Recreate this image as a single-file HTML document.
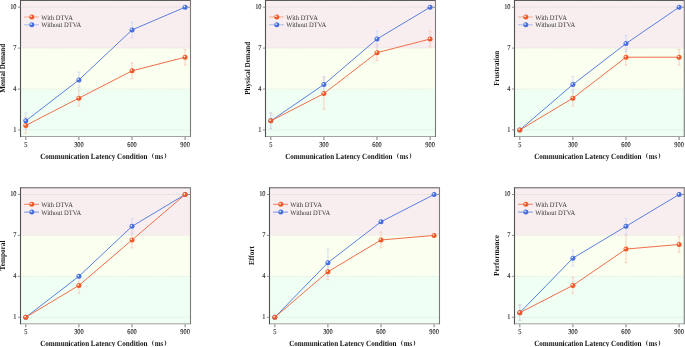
<!DOCTYPE html><html><head><meta charset="utf-8"><style>html,body{margin:0;padding:0;background:#fff;width:685px;height:347px;overflow:hidden}svg{display:block;filter:blur(0.3px)}text{font-family:'Liberation Serif', serif;text-rendering:geometricPrecision}</style></head><body><svg width="685" height="347" viewBox="0 0 685 347"><defs><radialGradient id="go" cx="0.36" cy="0.36" r="0.6" fx="0.36" fy="0.36"><stop offset="0" stop-color="#fff"/><stop offset="0.18" stop-color="#fbd0bf"/><stop offset="0.42" stop-color="#ef5a2a"/><stop offset="1" stop-color="#ef5a2a"/></radialGradient><radialGradient id="gb" cx="0.36" cy="0.36" r="0.6" fx="0.36" fy="0.36"><stop offset="0" stop-color="#fff"/><stop offset="0.18" stop-color="#c5d1f5"/><stop offset="0.42" stop-color="#476fdd"/><stop offset="1" stop-color="#476fdd"/></radialGradient></defs><rect x="20.50" y="0.00" width="170.00" height="48.12" fill="#f8eef0"/><rect x="20.50" y="48.12" width="170.00" height="40.92" fill="#fbfff0"/><rect x="20.50" y="89.04" width="170.00" height="47.46" fill="#f0fff4"/><line x1="20.50" y1="7.20" x2="190.50" y2="7.20" stroke="#000" stroke-opacity="0.1" stroke-width="0.9" stroke-dasharray="1.3 1.2"/><line x1="20.50" y1="48.12" x2="190.50" y2="48.12" stroke="#000" stroke-opacity="0.1" stroke-width="0.9" stroke-dasharray="1.3 1.2"/><line x1="20.50" y1="89.04" x2="190.50" y2="89.04" stroke="#000" stroke-opacity="0.1" stroke-width="0.9" stroke-dasharray="1.3 1.2"/><line x1="20.50" y1="129.96" x2="190.50" y2="129.96" stroke="#000" stroke-opacity="0.1" stroke-width="0.9" stroke-dasharray="1.3 1.2"/><line x1="20.50" y1="136.50" x2="190.50" y2="136.50" stroke="#a2a2a2" stroke-width="1"/><line x1="20.50" y1="0.50" x2="190.50" y2="0.50" stroke="#5c5c5c" stroke-width="1"/><line x1="190.50" y1="0.00" x2="190.50" y2="137.00" stroke="#7a7a7a" stroke-width="1.1"/><line x1="20.50" y1="0.00" x2="20.50" y2="137.00" stroke="#505050" stroke-width="1.1"/><line x1="17.90" y1="7.20" x2="20.50" y2="7.20" stroke="#777" stroke-width="0.8"/><text transform="translate(16.50 9.00) scale(0.860 1)" font-size="7.40" text-anchor="end" fill="#111" stroke="#222" stroke-width="0.1">10</text><line x1="17.90" y1="48.12" x2="20.50" y2="48.12" stroke="#777" stroke-width="0.8"/><text transform="translate(16.50 49.92) scale(0.860 1)" font-size="7.40" text-anchor="end" fill="#111" stroke="#222" stroke-width="0.1">7</text><line x1="17.90" y1="89.04" x2="20.50" y2="89.04" stroke="#777" stroke-width="0.8"/><text transform="translate(16.50 90.84) scale(0.860 1)" font-size="7.40" text-anchor="end" fill="#111" stroke="#222" stroke-width="0.1">4</text><line x1="17.90" y1="129.96" x2="20.50" y2="129.96" stroke="#777" stroke-width="0.8"/><text transform="translate(16.50 131.76) scale(0.860 1)" font-size="7.40" text-anchor="end" fill="#111" stroke="#222" stroke-width="0.1">1</text><line x1="187.50" y1="7.20" x2="190.50" y2="7.20" stroke="#888" stroke-width="0.9"/><line x1="25.80" y1="137.00" x2="25.80" y2="139.90" stroke="#888" stroke-width="1.1"/><text transform="translate(25.80 146.80) scale(0.860 1)" font-size="7.40" text-anchor="middle" fill="#111" stroke="#222" stroke-width="0.1">5</text><line x1="78.90" y1="137.00" x2="78.90" y2="139.90" stroke="#888" stroke-width="1.1"/><text transform="translate(78.90 146.80) scale(0.860 1)" font-size="7.40" text-anchor="middle" fill="#111" stroke="#222" stroke-width="0.1">300</text><line x1="132.00" y1="137.00" x2="132.00" y2="139.90" stroke="#888" stroke-width="1.1"/><text transform="translate(132.00 146.80) scale(0.860 1)" font-size="7.40" text-anchor="middle" fill="#111" stroke="#222" stroke-width="0.1">600</text><line x1="185.10" y1="137.00" x2="185.10" y2="139.90" stroke="#888" stroke-width="1.1"/><text transform="translate(185.10 146.80) scale(0.860 1)" font-size="7.40" text-anchor="middle" fill="#111" stroke="#222" stroke-width="0.1">900</text><text x="40.20" y="159.00" font-size="8.00" font-weight="bold" fill="#111" textLength="107.30" lengthAdjust="spacingAndGlyphs">Communication Latency Condition</text><path d="M153.60,152.70 Q150.40,155.80 153.60,158.90 Q152.40,155.80 153.60,152.70 Z" fill="#3a3a3a"/><text x="154.70" y="159.00" font-size="8.00" font-weight="bold" fill="#111" textLength="8.6" lengthAdjust="spacingAndGlyphs">ms</text><path d="M164.70,152.70 Q167.90,155.80 164.70,158.90 Q165.90,155.80 164.70,152.70 Z" fill="#3a3a3a"/><text transform="translate(5.10 68.25) rotate(-90)" font-size="7.70" font-weight="bold" text-anchor="middle" textLength="48.90" lengthAdjust="spacingAndGlyphs" fill="#111">Mental Demand</text><line x1="25.80" y1="117.54" x2="25.80" y2="133.28" stroke="#f7cbbb" stroke-width="0.9"/><line x1="24.30" y1="117.54" x2="27.30" y2="117.54" stroke="#f7cbbb" stroke-width="0.9"/><line x1="24.30" y1="133.28" x2="27.30" y2="133.28" stroke="#f7cbbb" stroke-width="0.9"/><line x1="78.90" y1="90.26" x2="78.90" y2="106.00" stroke="#f7cbbb" stroke-width="0.9"/><line x1="77.40" y1="90.26" x2="80.40" y2="90.26" stroke="#f7cbbb" stroke-width="0.9"/><line x1="77.40" y1="106.00" x2="80.40" y2="106.00" stroke="#f7cbbb" stroke-width="0.9"/><line x1="132.00" y1="62.98" x2="132.00" y2="78.72" stroke="#f7cbbb" stroke-width="0.9"/><line x1="130.50" y1="62.98" x2="133.50" y2="62.98" stroke="#f7cbbb" stroke-width="0.9"/><line x1="130.50" y1="78.72" x2="133.50" y2="78.72" stroke="#f7cbbb" stroke-width="0.9"/><line x1="185.10" y1="49.34" x2="185.10" y2="65.08" stroke="#f7cbbb" stroke-width="0.9"/><line x1="183.60" y1="49.34" x2="186.60" y2="49.34" stroke="#f7cbbb" stroke-width="0.9"/><line x1="183.60" y1="65.08" x2="186.60" y2="65.08" stroke="#f7cbbb" stroke-width="0.9"/><line x1="25.80" y1="113.00" x2="25.80" y2="128.74" stroke="#cfd9f4" stroke-width="0.9"/><line x1="24.30" y1="113.00" x2="27.30" y2="113.00" stroke="#cfd9f4" stroke-width="0.9"/><line x1="24.30" y1="128.74" x2="27.30" y2="128.74" stroke="#cfd9f4" stroke-width="0.9"/><line x1="78.90" y1="72.08" x2="78.90" y2="87.82" stroke="#cfd9f4" stroke-width="0.9"/><line x1="77.40" y1="72.08" x2="80.40" y2="72.08" stroke="#cfd9f4" stroke-width="0.9"/><line x1="77.40" y1="87.82" x2="80.40" y2="87.82" stroke="#cfd9f4" stroke-width="0.9"/><line x1="132.00" y1="22.06" x2="132.00" y2="37.80" stroke="#cfd9f4" stroke-width="0.9"/><line x1="130.50" y1="22.06" x2="133.50" y2="22.06" stroke="#cfd9f4" stroke-width="0.9"/><line x1="130.50" y1="37.80" x2="133.50" y2="37.80" stroke="#cfd9f4" stroke-width="0.9"/><polyline points="25.80,120.87 78.90,79.95 132.00,29.93 185.10,7.20" fill="none" stroke="#5a7fe0" stroke-width="1"/><polyline points="25.80,125.41 78.90,98.13 132.00,70.85 185.10,57.21" fill="none" stroke="#f0704a" stroke-width="1"/><circle cx="25.80" cy="120.87" r="2.5" fill="url(#gb)"/><circle cx="78.90" cy="79.95" r="2.5" fill="url(#gb)"/><circle cx="132.00" cy="29.93" r="2.5" fill="url(#gb)"/><circle cx="185.10" cy="7.20" r="2.5" fill="url(#gb)"/><circle cx="25.80" cy="125.41" r="2.5" fill="url(#go)"/><circle cx="78.90" cy="98.13" r="2.5" fill="url(#go)"/><circle cx="132.00" cy="70.85" r="2.5" fill="url(#go)"/><circle cx="185.10" cy="57.21" r="2.5" fill="url(#go)"/><line x1="24.10" y1="17.00" x2="38.90" y2="17.00" stroke="#f5a98c" stroke-width="1"/><circle cx="31.80" cy="17.00" r="2.5" fill="url(#go)"/><text transform="translate(41.30 19.60) scale(0.930 1)" font-size="7.00" fill="#333">With DTVA</text><line x1="24.10" y1="24.80" x2="38.90" y2="24.80" stroke="#a9bcef" stroke-width="1"/><circle cx="31.80" cy="24.80" r="2.5" fill="url(#gb)"/><text transform="translate(41.30 27.40) scale(0.930 1)" font-size="7.00" fill="#333">Without DTVA</text><rect x="265.50" y="0.00" width="170.00" height="48.12" fill="#f8eef0"/><rect x="265.50" y="48.12" width="170.00" height="40.92" fill="#fbfff0"/><rect x="265.50" y="89.04" width="170.00" height="47.46" fill="#f0fff4"/><line x1="265.50" y1="7.20" x2="435.50" y2="7.20" stroke="#000" stroke-opacity="0.1" stroke-width="0.9" stroke-dasharray="1.3 1.2"/><line x1="265.50" y1="48.12" x2="435.50" y2="48.12" stroke="#000" stroke-opacity="0.1" stroke-width="0.9" stroke-dasharray="1.3 1.2"/><line x1="265.50" y1="89.04" x2="435.50" y2="89.04" stroke="#000" stroke-opacity="0.1" stroke-width="0.9" stroke-dasharray="1.3 1.2"/><line x1="265.50" y1="129.96" x2="435.50" y2="129.96" stroke="#000" stroke-opacity="0.1" stroke-width="0.9" stroke-dasharray="1.3 1.2"/><line x1="265.50" y1="136.50" x2="435.50" y2="136.50" stroke="#a2a2a2" stroke-width="1"/><line x1="265.50" y1="0.50" x2="435.50" y2="0.50" stroke="#5c5c5c" stroke-width="1"/><line x1="435.50" y1="0.00" x2="435.50" y2="137.00" stroke="#7a7a7a" stroke-width="1.1"/><line x1="265.50" y1="0.00" x2="265.50" y2="137.00" stroke="#505050" stroke-width="1.1"/><line x1="262.90" y1="7.20" x2="265.50" y2="7.20" stroke="#777" stroke-width="0.8"/><text transform="translate(261.50 9.00) scale(0.860 1)" font-size="7.40" text-anchor="end" fill="#111" stroke="#222" stroke-width="0.1">10</text><line x1="262.90" y1="48.12" x2="265.50" y2="48.12" stroke="#777" stroke-width="0.8"/><text transform="translate(261.50 49.92) scale(0.860 1)" font-size="7.40" text-anchor="end" fill="#111" stroke="#222" stroke-width="0.1">7</text><line x1="262.90" y1="89.04" x2="265.50" y2="89.04" stroke="#777" stroke-width="0.8"/><text transform="translate(261.50 90.84) scale(0.860 1)" font-size="7.40" text-anchor="end" fill="#111" stroke="#222" stroke-width="0.1">4</text><line x1="262.90" y1="129.96" x2="265.50" y2="129.96" stroke="#777" stroke-width="0.8"/><text transform="translate(261.50 131.76) scale(0.860 1)" font-size="7.40" text-anchor="end" fill="#111" stroke="#222" stroke-width="0.1">1</text><line x1="432.50" y1="7.20" x2="435.50" y2="7.20" stroke="#888" stroke-width="0.9"/><line x1="270.80" y1="137.00" x2="270.80" y2="139.90" stroke="#888" stroke-width="1.1"/><text transform="translate(270.80 146.80) scale(0.860 1)" font-size="7.40" text-anchor="middle" fill="#111" stroke="#222" stroke-width="0.1">5</text><line x1="323.90" y1="137.00" x2="323.90" y2="139.90" stroke="#888" stroke-width="1.1"/><text transform="translate(323.90 146.80) scale(0.860 1)" font-size="7.40" text-anchor="middle" fill="#111" stroke="#222" stroke-width="0.1">300</text><line x1="377.00" y1="137.00" x2="377.00" y2="139.90" stroke="#888" stroke-width="1.1"/><text transform="translate(377.00 146.80) scale(0.860 1)" font-size="7.40" text-anchor="middle" fill="#111" stroke="#222" stroke-width="0.1">600</text><line x1="430.10" y1="137.00" x2="430.10" y2="139.90" stroke="#888" stroke-width="1.1"/><text transform="translate(430.10 146.80) scale(0.860 1)" font-size="7.40" text-anchor="middle" fill="#111" stroke="#222" stroke-width="0.1">900</text><text x="285.20" y="159.00" font-size="8.00" font-weight="bold" fill="#111" textLength="107.30" lengthAdjust="spacingAndGlyphs">Communication Latency Condition</text><path d="M398.60,152.70 Q395.40,155.80 398.60,158.90 Q397.40,155.80 398.60,152.70 Z" fill="#3a3a3a"/><text x="399.70" y="159.00" font-size="8.00" font-weight="bold" fill="#111" textLength="8.6" lengthAdjust="spacingAndGlyphs">ms</text><path d="M409.70,152.70 Q412.90,155.80 409.70,158.90 Q410.90,155.80 409.70,152.70 Z" fill="#3a3a3a"/><text transform="translate(250.10 68.25) rotate(-90)" font-size="7.70" font-weight="bold" text-anchor="middle" textLength="53.20" lengthAdjust="spacingAndGlyphs" fill="#111">Physical Demand</text><line x1="270.80" y1="113.00" x2="270.80" y2="128.74" stroke="#f7cbbb" stroke-width="0.9"/><line x1="269.30" y1="113.00" x2="272.30" y2="113.00" stroke="#f7cbbb" stroke-width="0.9"/><line x1="269.30" y1="128.74" x2="272.30" y2="128.74" stroke="#f7cbbb" stroke-width="0.9"/><line x1="323.90" y1="77.83" x2="323.90" y2="109.34" stroke="#f7cbbb" stroke-width="0.9"/><line x1="322.40" y1="77.83" x2="325.40" y2="77.83" stroke="#f7cbbb" stroke-width="0.9"/><line x1="322.40" y1="109.34" x2="325.40" y2="109.34" stroke="#f7cbbb" stroke-width="0.9"/><line x1="377.00" y1="44.80" x2="377.00" y2="60.54" stroke="#f7cbbb" stroke-width="0.9"/><line x1="375.50" y1="44.80" x2="378.50" y2="44.80" stroke="#f7cbbb" stroke-width="0.9"/><line x1="375.50" y1="60.54" x2="378.50" y2="60.54" stroke="#f7cbbb" stroke-width="0.9"/><line x1="430.10" y1="31.16" x2="430.10" y2="46.90" stroke="#f7cbbb" stroke-width="0.9"/><line x1="428.60" y1="31.16" x2="431.60" y2="31.16" stroke="#f7cbbb" stroke-width="0.9"/><line x1="428.60" y1="46.90" x2="431.60" y2="46.90" stroke="#f7cbbb" stroke-width="0.9"/><line x1="270.80" y1="113.00" x2="270.80" y2="128.74" stroke="#cfd9f4" stroke-width="0.9"/><line x1="269.30" y1="113.00" x2="272.30" y2="113.00" stroke="#cfd9f4" stroke-width="0.9"/><line x1="269.30" y1="128.74" x2="272.30" y2="128.74" stroke="#cfd9f4" stroke-width="0.9"/><line x1="323.90" y1="76.62" x2="323.90" y2="92.36" stroke="#cfd9f4" stroke-width="0.9"/><line x1="322.40" y1="76.62" x2="325.40" y2="76.62" stroke="#cfd9f4" stroke-width="0.9"/><line x1="322.40" y1="92.36" x2="325.40" y2="92.36" stroke="#cfd9f4" stroke-width="0.9"/><line x1="377.00" y1="31.16" x2="377.00" y2="46.90" stroke="#cfd9f4" stroke-width="0.9"/><line x1="375.50" y1="31.16" x2="378.50" y2="31.16" stroke="#cfd9f4" stroke-width="0.9"/><line x1="375.50" y1="46.90" x2="378.50" y2="46.90" stroke="#cfd9f4" stroke-width="0.9"/><polyline points="270.80,120.87 323.90,84.49 377.00,39.03 430.10,7.20" fill="none" stroke="#5a7fe0" stroke-width="1"/><polyline points="270.80,120.87 323.90,93.59 377.00,52.67 430.10,39.03" fill="none" stroke="#f0704a" stroke-width="1"/><circle cx="270.80" cy="120.87" r="2.5" fill="url(#gb)"/><circle cx="323.90" cy="84.49" r="2.5" fill="url(#gb)"/><circle cx="377.00" cy="39.03" r="2.5" fill="url(#gb)"/><circle cx="430.10" cy="7.20" r="2.5" fill="url(#gb)"/><circle cx="270.80" cy="120.87" r="2.5" fill="url(#go)"/><circle cx="323.90" cy="93.59" r="2.5" fill="url(#go)"/><circle cx="377.00" cy="52.67" r="2.5" fill="url(#go)"/><circle cx="430.10" cy="39.03" r="2.5" fill="url(#go)"/><line x1="269.10" y1="17.00" x2="283.90" y2="17.00" stroke="#f5a98c" stroke-width="1"/><circle cx="276.80" cy="17.00" r="2.5" fill="url(#go)"/><text transform="translate(286.30 19.60) scale(0.930 1)" font-size="7.00" fill="#333">With DTVA</text><line x1="269.10" y1="24.80" x2="283.90" y2="24.80" stroke="#a9bcef" stroke-width="1"/><circle cx="276.80" cy="24.80" r="2.5" fill="url(#gb)"/><text transform="translate(286.30 27.40) scale(0.930 1)" font-size="7.00" fill="#333">Without DTVA</text><rect x="514.50" y="0.00" width="169.80" height="48.12" fill="#f8eef0"/><rect x="514.50" y="48.12" width="169.80" height="40.92" fill="#fbfff0"/><rect x="514.50" y="89.04" width="169.80" height="47.46" fill="#f0fff4"/><line x1="514.50" y1="7.20" x2="684.30" y2="7.20" stroke="#000" stroke-opacity="0.1" stroke-width="0.9" stroke-dasharray="1.3 1.2"/><line x1="514.50" y1="48.12" x2="684.30" y2="48.12" stroke="#000" stroke-opacity="0.1" stroke-width="0.9" stroke-dasharray="1.3 1.2"/><line x1="514.50" y1="89.04" x2="684.30" y2="89.04" stroke="#000" stroke-opacity="0.1" stroke-width="0.9" stroke-dasharray="1.3 1.2"/><line x1="514.50" y1="129.96" x2="684.30" y2="129.96" stroke="#000" stroke-opacity="0.1" stroke-width="0.9" stroke-dasharray="1.3 1.2"/><line x1="514.50" y1="136.50" x2="684.30" y2="136.50" stroke="#a2a2a2" stroke-width="1"/><line x1="514.50" y1="0.50" x2="684.30" y2="0.50" stroke="#5c5c5c" stroke-width="1"/><line x1="684.30" y1="0.00" x2="684.30" y2="137.00" stroke="#7a7a7a" stroke-width="1.1"/><line x1="514.50" y1="0.00" x2="514.50" y2="137.00" stroke="#505050" stroke-width="1.1"/><line x1="511.90" y1="7.20" x2="514.50" y2="7.20" stroke="#777" stroke-width="0.8"/><text transform="translate(510.50 9.00) scale(0.860 1)" font-size="7.40" text-anchor="end" fill="#111" stroke="#222" stroke-width="0.1">10</text><line x1="511.90" y1="48.12" x2="514.50" y2="48.12" stroke="#777" stroke-width="0.8"/><text transform="translate(510.50 49.92) scale(0.860 1)" font-size="7.40" text-anchor="end" fill="#111" stroke="#222" stroke-width="0.1">7</text><line x1="511.90" y1="89.04" x2="514.50" y2="89.04" stroke="#777" stroke-width="0.8"/><text transform="translate(510.50 90.84) scale(0.860 1)" font-size="7.40" text-anchor="end" fill="#111" stroke="#222" stroke-width="0.1">4</text><line x1="511.90" y1="129.96" x2="514.50" y2="129.96" stroke="#777" stroke-width="0.8"/><text transform="translate(510.50 131.76) scale(0.860 1)" font-size="7.40" text-anchor="end" fill="#111" stroke="#222" stroke-width="0.1">1</text><line x1="681.30" y1="7.20" x2="684.30" y2="7.20" stroke="#888" stroke-width="0.9"/><line x1="519.80" y1="137.00" x2="519.80" y2="139.90" stroke="#888" stroke-width="1.1"/><text transform="translate(519.80 146.80) scale(0.860 1)" font-size="7.40" text-anchor="middle" fill="#111" stroke="#222" stroke-width="0.1">5</text><line x1="572.90" y1="137.00" x2="572.90" y2="139.90" stroke="#888" stroke-width="1.1"/><text transform="translate(572.90 146.80) scale(0.860 1)" font-size="7.40" text-anchor="middle" fill="#111" stroke="#222" stroke-width="0.1">300</text><line x1="626.00" y1="137.00" x2="626.00" y2="139.90" stroke="#888" stroke-width="1.1"/><text transform="translate(626.00 146.80) scale(0.860 1)" font-size="7.40" text-anchor="middle" fill="#111" stroke="#222" stroke-width="0.1">600</text><line x1="679.10" y1="137.00" x2="679.10" y2="139.90" stroke="#888" stroke-width="1.1"/><text transform="translate(679.10 146.80) scale(0.860 1)" font-size="7.40" text-anchor="middle" fill="#111" stroke="#222" stroke-width="0.1">900</text><text x="534.20" y="159.00" font-size="8.00" font-weight="bold" fill="#111" textLength="107.30" lengthAdjust="spacingAndGlyphs">Communication Latency Condition</text><path d="M647.60,152.70 Q644.40,155.80 647.60,158.90 Q646.40,155.80 647.60,152.70 Z" fill="#3a3a3a"/><text x="648.70" y="159.00" font-size="8.00" font-weight="bold" fill="#111" textLength="8.6" lengthAdjust="spacingAndGlyphs">ms</text><path d="M658.70,152.70 Q661.90,155.80 658.70,158.90 Q659.90,155.80 658.70,152.70 Z" fill="#3a3a3a"/><text transform="translate(499.10 68.25) rotate(-90)" font-size="7.70" font-weight="bold" text-anchor="middle" textLength="35.10" lengthAdjust="spacingAndGlyphs" fill="#111">Frustration</text><line x1="572.90" y1="90.26" x2="572.90" y2="106.00" stroke="#f7cbbb" stroke-width="0.9"/><line x1="571.40" y1="90.26" x2="574.40" y2="90.26" stroke="#f7cbbb" stroke-width="0.9"/><line x1="571.40" y1="106.00" x2="574.40" y2="106.00" stroke="#f7cbbb" stroke-width="0.9"/><line x1="626.00" y1="49.34" x2="626.00" y2="65.08" stroke="#f7cbbb" stroke-width="0.9"/><line x1="624.50" y1="49.34" x2="627.50" y2="49.34" stroke="#f7cbbb" stroke-width="0.9"/><line x1="624.50" y1="65.08" x2="627.50" y2="65.08" stroke="#f7cbbb" stroke-width="0.9"/><line x1="679.10" y1="49.34" x2="679.10" y2="65.08" stroke="#f7cbbb" stroke-width="0.9"/><line x1="677.60" y1="49.34" x2="680.60" y2="49.34" stroke="#f7cbbb" stroke-width="0.9"/><line x1="677.60" y1="65.08" x2="680.60" y2="65.08" stroke="#f7cbbb" stroke-width="0.9"/><line x1="572.90" y1="76.62" x2="572.90" y2="92.36" stroke="#cfd9f4" stroke-width="0.9"/><line x1="571.40" y1="76.62" x2="574.40" y2="76.62" stroke="#cfd9f4" stroke-width="0.9"/><line x1="571.40" y1="92.36" x2="574.40" y2="92.36" stroke="#cfd9f4" stroke-width="0.9"/><line x1="626.00" y1="35.70" x2="626.00" y2="51.44" stroke="#cfd9f4" stroke-width="0.9"/><line x1="624.50" y1="35.70" x2="627.50" y2="35.70" stroke="#cfd9f4" stroke-width="0.9"/><line x1="624.50" y1="51.44" x2="627.50" y2="51.44" stroke="#cfd9f4" stroke-width="0.9"/><polyline points="519.80,129.96 572.90,84.49 626.00,43.57 679.10,7.20" fill="none" stroke="#5a7fe0" stroke-width="1"/><polyline points="519.80,129.96 572.90,98.13 626.00,57.21 679.10,57.21" fill="none" stroke="#f0704a" stroke-width="1"/><circle cx="519.80" cy="129.96" r="2.5" fill="url(#gb)"/><circle cx="572.90" cy="84.49" r="2.5" fill="url(#gb)"/><circle cx="626.00" cy="43.57" r="2.5" fill="url(#gb)"/><circle cx="679.10" cy="7.20" r="2.5" fill="url(#gb)"/><circle cx="519.80" cy="129.96" r="2.5" fill="url(#go)"/><circle cx="572.90" cy="98.13" r="2.5" fill="url(#go)"/><circle cx="626.00" cy="57.21" r="2.5" fill="url(#go)"/><circle cx="679.10" cy="57.21" r="2.5" fill="url(#go)"/><line x1="518.10" y1="17.00" x2="532.90" y2="17.00" stroke="#f5a98c" stroke-width="1"/><circle cx="525.80" cy="17.00" r="2.5" fill="url(#go)"/><text transform="translate(535.30 19.60) scale(0.930 1)" font-size="7.00" fill="#333">With DTVA</text><line x1="518.10" y1="24.80" x2="532.90" y2="24.80" stroke="#a9bcef" stroke-width="1"/><circle cx="525.80" cy="24.80" r="2.5" fill="url(#gb)"/><text transform="translate(535.30 27.40) scale(0.930 1)" font-size="7.00" fill="#333">Without DTVA</text><rect x="20.50" y="187.30" width="170.00" height="48.12" fill="#f8eef0"/><rect x="20.50" y="235.42" width="170.00" height="40.92" fill="#fbfff0"/><rect x="20.50" y="276.34" width="170.00" height="47.46" fill="#f0fff4"/><line x1="20.50" y1="194.50" x2="190.50" y2="194.50" stroke="#000" stroke-opacity="0.1" stroke-width="0.9" stroke-dasharray="1.3 1.2"/><line x1="20.50" y1="235.42" x2="190.50" y2="235.42" stroke="#000" stroke-opacity="0.1" stroke-width="0.9" stroke-dasharray="1.3 1.2"/><line x1="20.50" y1="276.34" x2="190.50" y2="276.34" stroke="#000" stroke-opacity="0.1" stroke-width="0.9" stroke-dasharray="1.3 1.2"/><line x1="20.50" y1="317.26" x2="190.50" y2="317.26" stroke="#000" stroke-opacity="0.1" stroke-width="0.9" stroke-dasharray="1.3 1.2"/><line x1="20.50" y1="323.80" x2="190.50" y2="323.80" stroke="#a2a2a2" stroke-width="1"/><line x1="20.50" y1="187.80" x2="190.50" y2="187.80" stroke="#5c5c5c" stroke-width="1"/><line x1="190.50" y1="187.30" x2="190.50" y2="324.30" stroke="#7a7a7a" stroke-width="1.1"/><line x1="20.50" y1="187.30" x2="20.50" y2="324.30" stroke="#505050" stroke-width="1.1"/><line x1="17.90" y1="194.50" x2="20.50" y2="194.50" stroke="#777" stroke-width="0.8"/><text transform="translate(16.50 196.30) scale(0.860 1)" font-size="7.40" text-anchor="end" fill="#111" stroke="#222" stroke-width="0.1">10</text><line x1="17.90" y1="235.42" x2="20.50" y2="235.42" stroke="#777" stroke-width="0.8"/><text transform="translate(16.50 237.22) scale(0.860 1)" font-size="7.40" text-anchor="end" fill="#111" stroke="#222" stroke-width="0.1">7</text><line x1="17.90" y1="276.34" x2="20.50" y2="276.34" stroke="#777" stroke-width="0.8"/><text transform="translate(16.50 278.14) scale(0.860 1)" font-size="7.40" text-anchor="end" fill="#111" stroke="#222" stroke-width="0.1">4</text><line x1="17.90" y1="317.26" x2="20.50" y2="317.26" stroke="#777" stroke-width="0.8"/><text transform="translate(16.50 319.06) scale(0.860 1)" font-size="7.40" text-anchor="end" fill="#111" stroke="#222" stroke-width="0.1">1</text><line x1="187.50" y1="194.50" x2="190.50" y2="194.50" stroke="#888" stroke-width="0.9"/><line x1="25.80" y1="324.30" x2="25.80" y2="327.20" stroke="#888" stroke-width="1.1"/><text transform="translate(25.80 334.10) scale(0.860 1)" font-size="7.40" text-anchor="middle" fill="#111" stroke="#222" stroke-width="0.1">5</text><line x1="78.90" y1="324.30" x2="78.90" y2="327.20" stroke="#888" stroke-width="1.1"/><text transform="translate(78.90 334.10) scale(0.860 1)" font-size="7.40" text-anchor="middle" fill="#111" stroke="#222" stroke-width="0.1">300</text><line x1="132.00" y1="324.30" x2="132.00" y2="327.20" stroke="#888" stroke-width="1.1"/><text transform="translate(132.00 334.10) scale(0.860 1)" font-size="7.40" text-anchor="middle" fill="#111" stroke="#222" stroke-width="0.1">600</text><line x1="185.10" y1="324.30" x2="185.10" y2="327.20" stroke="#888" stroke-width="1.1"/><text transform="translate(185.10 334.10) scale(0.860 1)" font-size="7.40" text-anchor="middle" fill="#111" stroke="#222" stroke-width="0.1">900</text><text x="40.20" y="346.30" font-size="8.00" font-weight="bold" fill="#111" textLength="107.30" lengthAdjust="spacingAndGlyphs">Communication Latency Condition</text><path d="M153.60,340.00 Q150.40,343.10 153.60,346.20 Q152.40,343.10 153.60,340.00 Z" fill="#3a3a3a"/><text x="154.70" y="346.30" font-size="8.00" font-weight="bold" fill="#111" textLength="8.6" lengthAdjust="spacingAndGlyphs">ms</text><path d="M164.70,340.00 Q167.90,343.10 164.70,346.20 Q165.90,343.10 164.70,340.00 Z" fill="#3a3a3a"/><text transform="translate(5.10 255.55) rotate(-90)" font-size="7.70" font-weight="bold" text-anchor="middle" textLength="29.90" lengthAdjust="spacingAndGlyphs" fill="#111">Temporal</text><line x1="78.90" y1="277.56" x2="78.90" y2="293.30" stroke="#f7cbbb" stroke-width="0.9"/><line x1="77.40" y1="277.56" x2="80.40" y2="277.56" stroke="#f7cbbb" stroke-width="0.9"/><line x1="77.40" y1="293.30" x2="80.40" y2="293.30" stroke="#f7cbbb" stroke-width="0.9"/><line x1="132.00" y1="232.10" x2="132.00" y2="247.84" stroke="#f7cbbb" stroke-width="0.9"/><line x1="130.50" y1="232.10" x2="133.50" y2="232.10" stroke="#f7cbbb" stroke-width="0.9"/><line x1="130.50" y1="247.84" x2="133.50" y2="247.84" stroke="#f7cbbb" stroke-width="0.9"/><line x1="132.00" y1="218.46" x2="132.00" y2="234.20" stroke="#cfd9f4" stroke-width="0.9"/><line x1="130.50" y1="218.46" x2="133.50" y2="218.46" stroke="#cfd9f4" stroke-width="0.9"/><line x1="130.50" y1="234.20" x2="133.50" y2="234.20" stroke="#cfd9f4" stroke-width="0.9"/><polyline points="25.80,317.26 78.90,276.34 132.00,226.33 185.10,194.50" fill="none" stroke="#5a7fe0" stroke-width="1"/><polyline points="25.80,317.26 78.90,285.43 132.00,239.97 185.10,194.50" fill="none" stroke="#f0704a" stroke-width="1"/><circle cx="25.80" cy="317.26" r="2.5" fill="url(#gb)"/><circle cx="78.90" cy="276.34" r="2.5" fill="url(#gb)"/><circle cx="132.00" cy="226.33" r="2.5" fill="url(#gb)"/><circle cx="185.10" cy="194.50" r="2.5" fill="url(#gb)"/><circle cx="25.80" cy="317.26" r="2.5" fill="url(#go)"/><circle cx="78.90" cy="285.43" r="2.5" fill="url(#go)"/><circle cx="132.00" cy="239.97" r="2.5" fill="url(#go)"/><circle cx="185.10" cy="194.50" r="2.5" fill="url(#go)"/><line x1="24.10" y1="204.30" x2="38.90" y2="204.30" stroke="#f07d5a" stroke-width="1"/><circle cx="31.80" cy="204.30" r="2.5" fill="url(#go)"/><text transform="translate(41.30 206.90) scale(0.930 1)" font-size="7.00" fill="#333">With DTVA</text><line x1="24.10" y1="212.10" x2="38.90" y2="212.10" stroke="#7392e3" stroke-width="1"/><circle cx="31.80" cy="212.10" r="2.5" fill="url(#gb)"/><text transform="translate(41.30 214.70) scale(0.930 1)" font-size="7.00" fill="#333">Without DTVA</text><rect x="269.50" y="187.30" width="170.00" height="48.12" fill="#f8eef0"/><rect x="269.50" y="235.42" width="170.00" height="40.92" fill="#fbfff0"/><rect x="269.50" y="276.34" width="170.00" height="47.46" fill="#f0fff4"/><line x1="269.50" y1="194.50" x2="439.50" y2="194.50" stroke="#000" stroke-opacity="0.1" stroke-width="0.9" stroke-dasharray="1.3 1.2"/><line x1="269.50" y1="235.42" x2="439.50" y2="235.42" stroke="#000" stroke-opacity="0.1" stroke-width="0.9" stroke-dasharray="1.3 1.2"/><line x1="269.50" y1="276.34" x2="439.50" y2="276.34" stroke="#000" stroke-opacity="0.1" stroke-width="0.9" stroke-dasharray="1.3 1.2"/><line x1="269.50" y1="317.26" x2="439.50" y2="317.26" stroke="#000" stroke-opacity="0.1" stroke-width="0.9" stroke-dasharray="1.3 1.2"/><line x1="269.50" y1="323.80" x2="439.50" y2="323.80" stroke="#a2a2a2" stroke-width="1"/><line x1="269.50" y1="187.80" x2="439.50" y2="187.80" stroke="#5c5c5c" stroke-width="1"/><line x1="439.50" y1="187.30" x2="439.50" y2="324.30" stroke="#7a7a7a" stroke-width="1.1"/><line x1="269.50" y1="187.30" x2="269.50" y2="324.30" stroke="#505050" stroke-width="1.1"/><line x1="266.90" y1="194.50" x2="269.50" y2="194.50" stroke="#777" stroke-width="0.8"/><text transform="translate(265.50 196.30) scale(0.860 1)" font-size="7.40" text-anchor="end" fill="#111" stroke="#222" stroke-width="0.1">10</text><line x1="266.90" y1="235.42" x2="269.50" y2="235.42" stroke="#777" stroke-width="0.8"/><text transform="translate(265.50 237.22) scale(0.860 1)" font-size="7.40" text-anchor="end" fill="#111" stroke="#222" stroke-width="0.1">7</text><line x1="266.90" y1="276.34" x2="269.50" y2="276.34" stroke="#777" stroke-width="0.8"/><text transform="translate(265.50 278.14) scale(0.860 1)" font-size="7.40" text-anchor="end" fill="#111" stroke="#222" stroke-width="0.1">4</text><line x1="266.90" y1="317.26" x2="269.50" y2="317.26" stroke="#777" stroke-width="0.8"/><text transform="translate(265.50 319.06) scale(0.860 1)" font-size="7.40" text-anchor="end" fill="#111" stroke="#222" stroke-width="0.1">1</text><line x1="436.50" y1="194.50" x2="439.50" y2="194.50" stroke="#888" stroke-width="0.9"/><line x1="274.80" y1="324.30" x2="274.80" y2="327.20" stroke="#888" stroke-width="1.1"/><text transform="translate(274.80 334.10) scale(0.860 1)" font-size="7.40" text-anchor="middle" fill="#111" stroke="#222" stroke-width="0.1">5</text><line x1="327.90" y1="324.30" x2="327.90" y2="327.20" stroke="#888" stroke-width="1.1"/><text transform="translate(327.90 334.10) scale(0.860 1)" font-size="7.40" text-anchor="middle" fill="#111" stroke="#222" stroke-width="0.1">300</text><line x1="381.00" y1="324.30" x2="381.00" y2="327.20" stroke="#888" stroke-width="1.1"/><text transform="translate(381.00 334.10) scale(0.860 1)" font-size="7.40" text-anchor="middle" fill="#111" stroke="#222" stroke-width="0.1">600</text><line x1="434.10" y1="324.30" x2="434.10" y2="327.20" stroke="#888" stroke-width="1.1"/><text transform="translate(434.10 334.10) scale(0.860 1)" font-size="7.40" text-anchor="middle" fill="#111" stroke="#222" stroke-width="0.1">900</text><text x="289.20" y="346.30" font-size="8.00" font-weight="bold" fill="#111" textLength="107.30" lengthAdjust="spacingAndGlyphs">Communication Latency Condition</text><path d="M402.60,340.00 Q399.40,343.10 402.60,346.20 Q401.40,343.10 402.60,340.00 Z" fill="#3a3a3a"/><text x="403.70" y="346.30" font-size="8.00" font-weight="bold" fill="#111" textLength="8.6" lengthAdjust="spacingAndGlyphs">ms</text><path d="M413.70,340.00 Q416.90,343.10 413.70,346.20 Q414.90,343.10 413.70,340.00 Z" fill="#3a3a3a"/><text transform="translate(254.10 255.55) rotate(-90)" font-size="7.70" font-weight="bold" text-anchor="middle" textLength="18.90" lengthAdjust="spacingAndGlyphs" fill="#111">Effort</text><line x1="327.90" y1="263.92" x2="327.90" y2="279.66" stroke="#f7cbbb" stroke-width="0.9"/><line x1="326.40" y1="263.92" x2="329.40" y2="263.92" stroke="#f7cbbb" stroke-width="0.9"/><line x1="326.40" y1="279.66" x2="329.40" y2="279.66" stroke="#f7cbbb" stroke-width="0.9"/><line x1="381.00" y1="232.10" x2="381.00" y2="247.84" stroke="#f7cbbb" stroke-width="0.9"/><line x1="379.50" y1="232.10" x2="382.50" y2="232.10" stroke="#f7cbbb" stroke-width="0.9"/><line x1="379.50" y1="247.84" x2="382.50" y2="247.84" stroke="#f7cbbb" stroke-width="0.9"/><line x1="327.90" y1="249.06" x2="327.90" y2="276.34" stroke="#cfd9f4" stroke-width="0.9"/><line x1="326.40" y1="249.06" x2="329.40" y2="249.06" stroke="#cfd9f4" stroke-width="0.9"/><line x1="326.40" y1="276.34" x2="329.40" y2="276.34" stroke="#cfd9f4" stroke-width="0.9"/><polyline points="274.80,317.26 327.90,262.70 381.00,221.78 434.10,194.50" fill="none" stroke="#5a7fe0" stroke-width="1"/><polyline points="274.80,317.26 327.90,271.79 381.00,239.97 434.10,235.42" fill="none" stroke="#f0704a" stroke-width="1"/><circle cx="274.80" cy="317.26" r="2.5" fill="url(#gb)"/><circle cx="327.90" cy="262.70" r="2.5" fill="url(#gb)"/><circle cx="381.00" cy="221.78" r="2.5" fill="url(#gb)"/><circle cx="434.10" cy="194.50" r="2.5" fill="url(#gb)"/><circle cx="274.80" cy="317.26" r="2.5" fill="url(#go)"/><circle cx="327.90" cy="271.79" r="2.5" fill="url(#go)"/><circle cx="381.00" cy="239.97" r="2.5" fill="url(#go)"/><circle cx="434.10" cy="235.42" r="2.5" fill="url(#go)"/><line x1="273.10" y1="204.30" x2="287.90" y2="204.30" stroke="#f07d5a" stroke-width="1"/><circle cx="280.80" cy="204.30" r="2.5" fill="url(#go)"/><text transform="translate(290.30 206.90) scale(0.930 1)" font-size="7.00" fill="#333">With DTVA</text><line x1="273.10" y1="212.10" x2="287.90" y2="212.10" stroke="#7392e3" stroke-width="1"/><circle cx="280.80" cy="212.10" r="2.5" fill="url(#gb)"/><text transform="translate(290.30 214.70) scale(0.930 1)" font-size="7.00" fill="#333">Without DTVA</text><rect x="514.50" y="187.30" width="169.80" height="48.12" fill="#f8eef0"/><rect x="514.50" y="235.42" width="169.80" height="40.92" fill="#fbfff0"/><rect x="514.50" y="276.34" width="169.80" height="47.46" fill="#f0fff4"/><line x1="514.50" y1="194.50" x2="684.30" y2="194.50" stroke="#000" stroke-opacity="0.1" stroke-width="0.9" stroke-dasharray="1.3 1.2"/><line x1="514.50" y1="235.42" x2="684.30" y2="235.42" stroke="#000" stroke-opacity="0.1" stroke-width="0.9" stroke-dasharray="1.3 1.2"/><line x1="514.50" y1="276.34" x2="684.30" y2="276.34" stroke="#000" stroke-opacity="0.1" stroke-width="0.9" stroke-dasharray="1.3 1.2"/><line x1="514.50" y1="317.26" x2="684.30" y2="317.26" stroke="#000" stroke-opacity="0.1" stroke-width="0.9" stroke-dasharray="1.3 1.2"/><line x1="514.50" y1="323.80" x2="684.30" y2="323.80" stroke="#a2a2a2" stroke-width="1"/><line x1="514.50" y1="187.80" x2="684.30" y2="187.80" stroke="#5c5c5c" stroke-width="1"/><line x1="684.30" y1="187.30" x2="684.30" y2="324.30" stroke="#7a7a7a" stroke-width="1.1"/><line x1="514.50" y1="187.30" x2="514.50" y2="324.30" stroke="#505050" stroke-width="1.1"/><line x1="511.90" y1="194.50" x2="514.50" y2="194.50" stroke="#777" stroke-width="0.8"/><text transform="translate(510.50 196.30) scale(0.860 1)" font-size="7.40" text-anchor="end" fill="#111" stroke="#222" stroke-width="0.1">10</text><line x1="511.90" y1="235.42" x2="514.50" y2="235.42" stroke="#777" stroke-width="0.8"/><text transform="translate(510.50 237.22) scale(0.860 1)" font-size="7.40" text-anchor="end" fill="#111" stroke="#222" stroke-width="0.1">7</text><line x1="511.90" y1="276.34" x2="514.50" y2="276.34" stroke="#777" stroke-width="0.8"/><text transform="translate(510.50 278.14) scale(0.860 1)" font-size="7.40" text-anchor="end" fill="#111" stroke="#222" stroke-width="0.1">4</text><line x1="511.90" y1="317.26" x2="514.50" y2="317.26" stroke="#777" stroke-width="0.8"/><text transform="translate(510.50 319.06) scale(0.860 1)" font-size="7.40" text-anchor="end" fill="#111" stroke="#222" stroke-width="0.1">1</text><line x1="681.30" y1="194.50" x2="684.30" y2="194.50" stroke="#888" stroke-width="0.9"/><line x1="519.80" y1="324.30" x2="519.80" y2="327.20" stroke="#888" stroke-width="1.1"/><text transform="translate(519.80 334.10) scale(0.860 1)" font-size="7.40" text-anchor="middle" fill="#111" stroke="#222" stroke-width="0.1">5</text><line x1="572.90" y1="324.30" x2="572.90" y2="327.20" stroke="#888" stroke-width="1.1"/><text transform="translate(572.90 334.10) scale(0.860 1)" font-size="7.40" text-anchor="middle" fill="#111" stroke="#222" stroke-width="0.1">300</text><line x1="626.00" y1="324.30" x2="626.00" y2="327.20" stroke="#888" stroke-width="1.1"/><text transform="translate(626.00 334.10) scale(0.860 1)" font-size="7.40" text-anchor="middle" fill="#111" stroke="#222" stroke-width="0.1">600</text><line x1="679.10" y1="324.30" x2="679.10" y2="327.20" stroke="#888" stroke-width="1.1"/><text transform="translate(679.10 334.10) scale(0.860 1)" font-size="7.40" text-anchor="middle" fill="#111" stroke="#222" stroke-width="0.1">900</text><text x="534.20" y="346.30" font-size="8.00" font-weight="bold" fill="#111" textLength="107.30" lengthAdjust="spacingAndGlyphs">Communication Latency Condition</text><path d="M647.60,340.00 Q644.40,343.10 647.60,346.20 Q646.40,343.10 647.60,340.00 Z" fill="#3a3a3a"/><text x="648.70" y="346.30" font-size="8.00" font-weight="bold" fill="#111" textLength="8.6" lengthAdjust="spacingAndGlyphs">ms</text><path d="M658.70,340.00 Q661.90,343.10 658.70,346.20 Q659.90,343.10 658.70,340.00 Z" fill="#3a3a3a"/><text transform="translate(499.10 255.55) rotate(-90)" font-size="7.70" font-weight="bold" text-anchor="middle" textLength="41.00" lengthAdjust="spacingAndGlyphs" fill="#111">Performance</text><line x1="519.80" y1="304.84" x2="519.80" y2="320.58" stroke="#f7cbbb" stroke-width="0.9"/><line x1="518.30" y1="304.84" x2="521.30" y2="304.84" stroke="#f7cbbb" stroke-width="0.9"/><line x1="518.30" y1="320.58" x2="521.30" y2="320.58" stroke="#f7cbbb" stroke-width="0.9"/><line x1="572.90" y1="277.56" x2="572.90" y2="293.30" stroke="#f7cbbb" stroke-width="0.9"/><line x1="571.40" y1="277.56" x2="574.40" y2="277.56" stroke="#f7cbbb" stroke-width="0.9"/><line x1="571.40" y1="293.30" x2="574.40" y2="293.30" stroke="#f7cbbb" stroke-width="0.9"/><line x1="626.00" y1="235.42" x2="626.00" y2="262.70" stroke="#f7cbbb" stroke-width="0.9"/><line x1="624.50" y1="235.42" x2="627.50" y2="235.42" stroke="#f7cbbb" stroke-width="0.9"/><line x1="624.50" y1="262.70" x2="627.50" y2="262.70" stroke="#f7cbbb" stroke-width="0.9"/><line x1="679.10" y1="236.64" x2="679.10" y2="252.38" stroke="#f7cbbb" stroke-width="0.9"/><line x1="677.60" y1="236.64" x2="680.60" y2="236.64" stroke="#f7cbbb" stroke-width="0.9"/><line x1="677.60" y1="252.38" x2="680.60" y2="252.38" stroke="#f7cbbb" stroke-width="0.9"/><line x1="519.80" y1="304.84" x2="519.80" y2="320.58" stroke="#cfd9f4" stroke-width="0.9"/><line x1="518.30" y1="304.84" x2="521.30" y2="304.84" stroke="#cfd9f4" stroke-width="0.9"/><line x1="518.30" y1="320.58" x2="521.30" y2="320.58" stroke="#cfd9f4" stroke-width="0.9"/><line x1="572.90" y1="250.28" x2="572.90" y2="266.02" stroke="#cfd9f4" stroke-width="0.9"/><line x1="571.40" y1="250.28" x2="574.40" y2="250.28" stroke="#cfd9f4" stroke-width="0.9"/><line x1="571.40" y1="266.02" x2="574.40" y2="266.02" stroke="#cfd9f4" stroke-width="0.9"/><line x1="626.00" y1="218.46" x2="626.00" y2="234.20" stroke="#cfd9f4" stroke-width="0.9"/><line x1="624.50" y1="218.46" x2="627.50" y2="218.46" stroke="#cfd9f4" stroke-width="0.9"/><line x1="624.50" y1="234.20" x2="627.50" y2="234.20" stroke="#cfd9f4" stroke-width="0.9"/><polyline points="519.80,312.71 572.90,258.15 626.00,226.33 679.10,194.50" fill="none" stroke="#5a7fe0" stroke-width="1"/><polyline points="519.80,312.71 572.90,285.43 626.00,249.06 679.10,244.51" fill="none" stroke="#f0704a" stroke-width="1"/><circle cx="519.80" cy="312.71" r="2.5" fill="url(#gb)"/><circle cx="572.90" cy="258.15" r="2.5" fill="url(#gb)"/><circle cx="626.00" cy="226.33" r="2.5" fill="url(#gb)"/><circle cx="679.10" cy="194.50" r="2.5" fill="url(#gb)"/><circle cx="519.80" cy="312.71" r="2.5" fill="url(#go)"/><circle cx="572.90" cy="285.43" r="2.5" fill="url(#go)"/><circle cx="626.00" cy="249.06" r="2.5" fill="url(#go)"/><circle cx="679.10" cy="244.51" r="2.5" fill="url(#go)"/><line x1="518.10" y1="204.30" x2="532.90" y2="204.30" stroke="#f07d5a" stroke-width="1"/><circle cx="525.80" cy="204.30" r="2.5" fill="url(#go)"/><text transform="translate(535.30 206.90) scale(0.930 1)" font-size="7.00" fill="#333">With DTVA</text><line x1="518.10" y1="212.10" x2="532.90" y2="212.10" stroke="#7392e3" stroke-width="1"/><circle cx="525.80" cy="212.10" r="2.5" fill="url(#gb)"/><text transform="translate(535.30 214.70) scale(0.930 1)" font-size="7.00" fill="#333">Without DTVA</text></svg></body></html>
